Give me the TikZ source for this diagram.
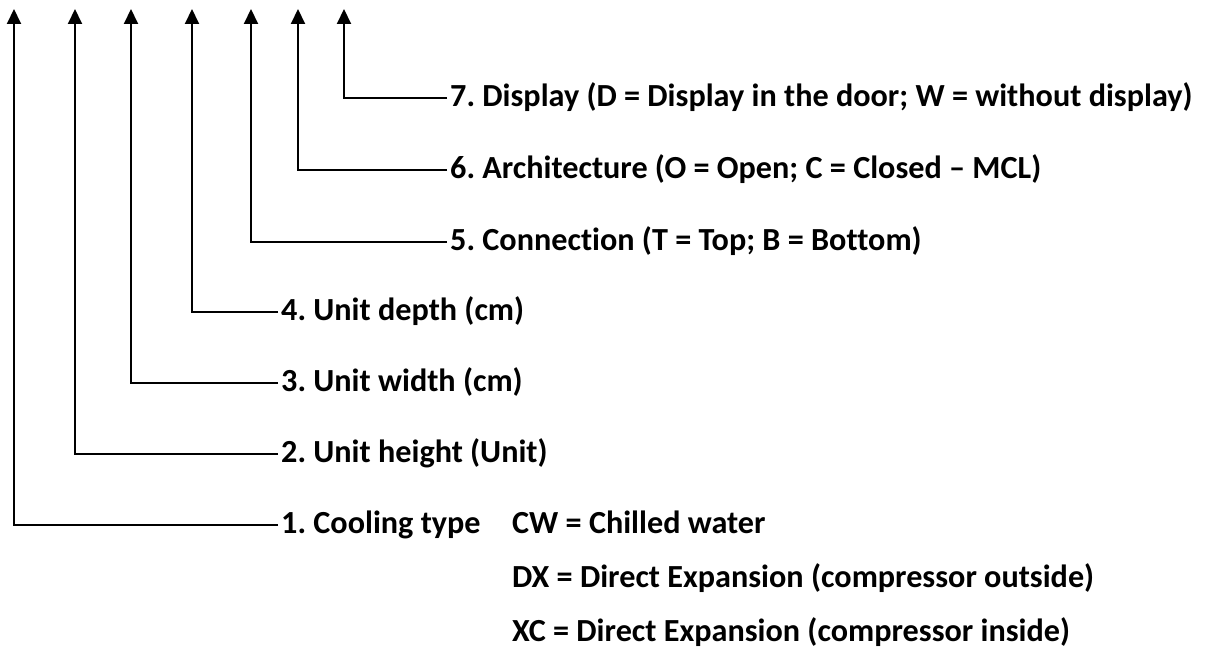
\documentclass[tikz,border=0pt]{standalone}
\usepackage{fontspec}
\setmainfont[Ligatures={TeX,NoCommon}]{Carlito}
\usepackage{tikz}
\usetikzlibrary{arrows.meta, positioning}
\tikzset{
  codelabel/.style={anchor=west, inner sep=3pt, text height=24pt, text depth=7pt,
    font=\fontsize{32.2}{38}\selectfont\bfseries},
  codearrow/.style={-{Triangle[width=14pt,length=15pt]}, line width=2pt, line join=miter},
}
\frenchspacing

\begin{document}
\begin{tikzpicture}[x=1pt, y=-1pt]
  \useasboundingbox (0,0) rectangle (1208,652);

  % Arrow tops
  \coordinate (top1) at (14,9);
  \coordinate (top2) at (75,9);
  \coordinate (top3) at (131,9);
  \coordinate (top4) at (192,9);
  \coordinate (top5) at (251,9);
  \coordinate (top6) at (298,9);
  \coordinate (top7) at (344,9);

  % Labels
  \node[codelabel] (lab7) at (447,98) {7. Display (D = Display in the door; W = without display)};
  \node[codelabel] (lab6) at (447,170) {6. Architecture (O = Open; C = Closed -- MCL)};
  \node[codelabel] (lab5) at (447,242) {5. Connection (T = Top; B = Bottom)};
  \node[codelabel] (lab4) at (278,312) {4. Unit depth (cm)};
  \node[codelabel] (lab3) at (278,383) {3. Unit width (cm)};
  \node[codelabel] (lab2) at (278,454) {2. Unit height (Unit)};
  \node[codelabel] (lab1) at (278,525) {1. Cooling type};

  % Cooling types
  \node[codelabel] (cw) at (509,525) {CW = Chilled water};
  \node[codelabel] (dx) at (509,579) {DX = Direct Expansion (compressor outside)};
  \node[codelabel] (xc) at (509,633) {XC = Direct Expansion (compressor inside)};

  % Arrows
  \foreach \i in {1,...,7}
    \draw[codearrow] (lab\i.west) -| (top\i);
\end{tikzpicture}
\end{document}
